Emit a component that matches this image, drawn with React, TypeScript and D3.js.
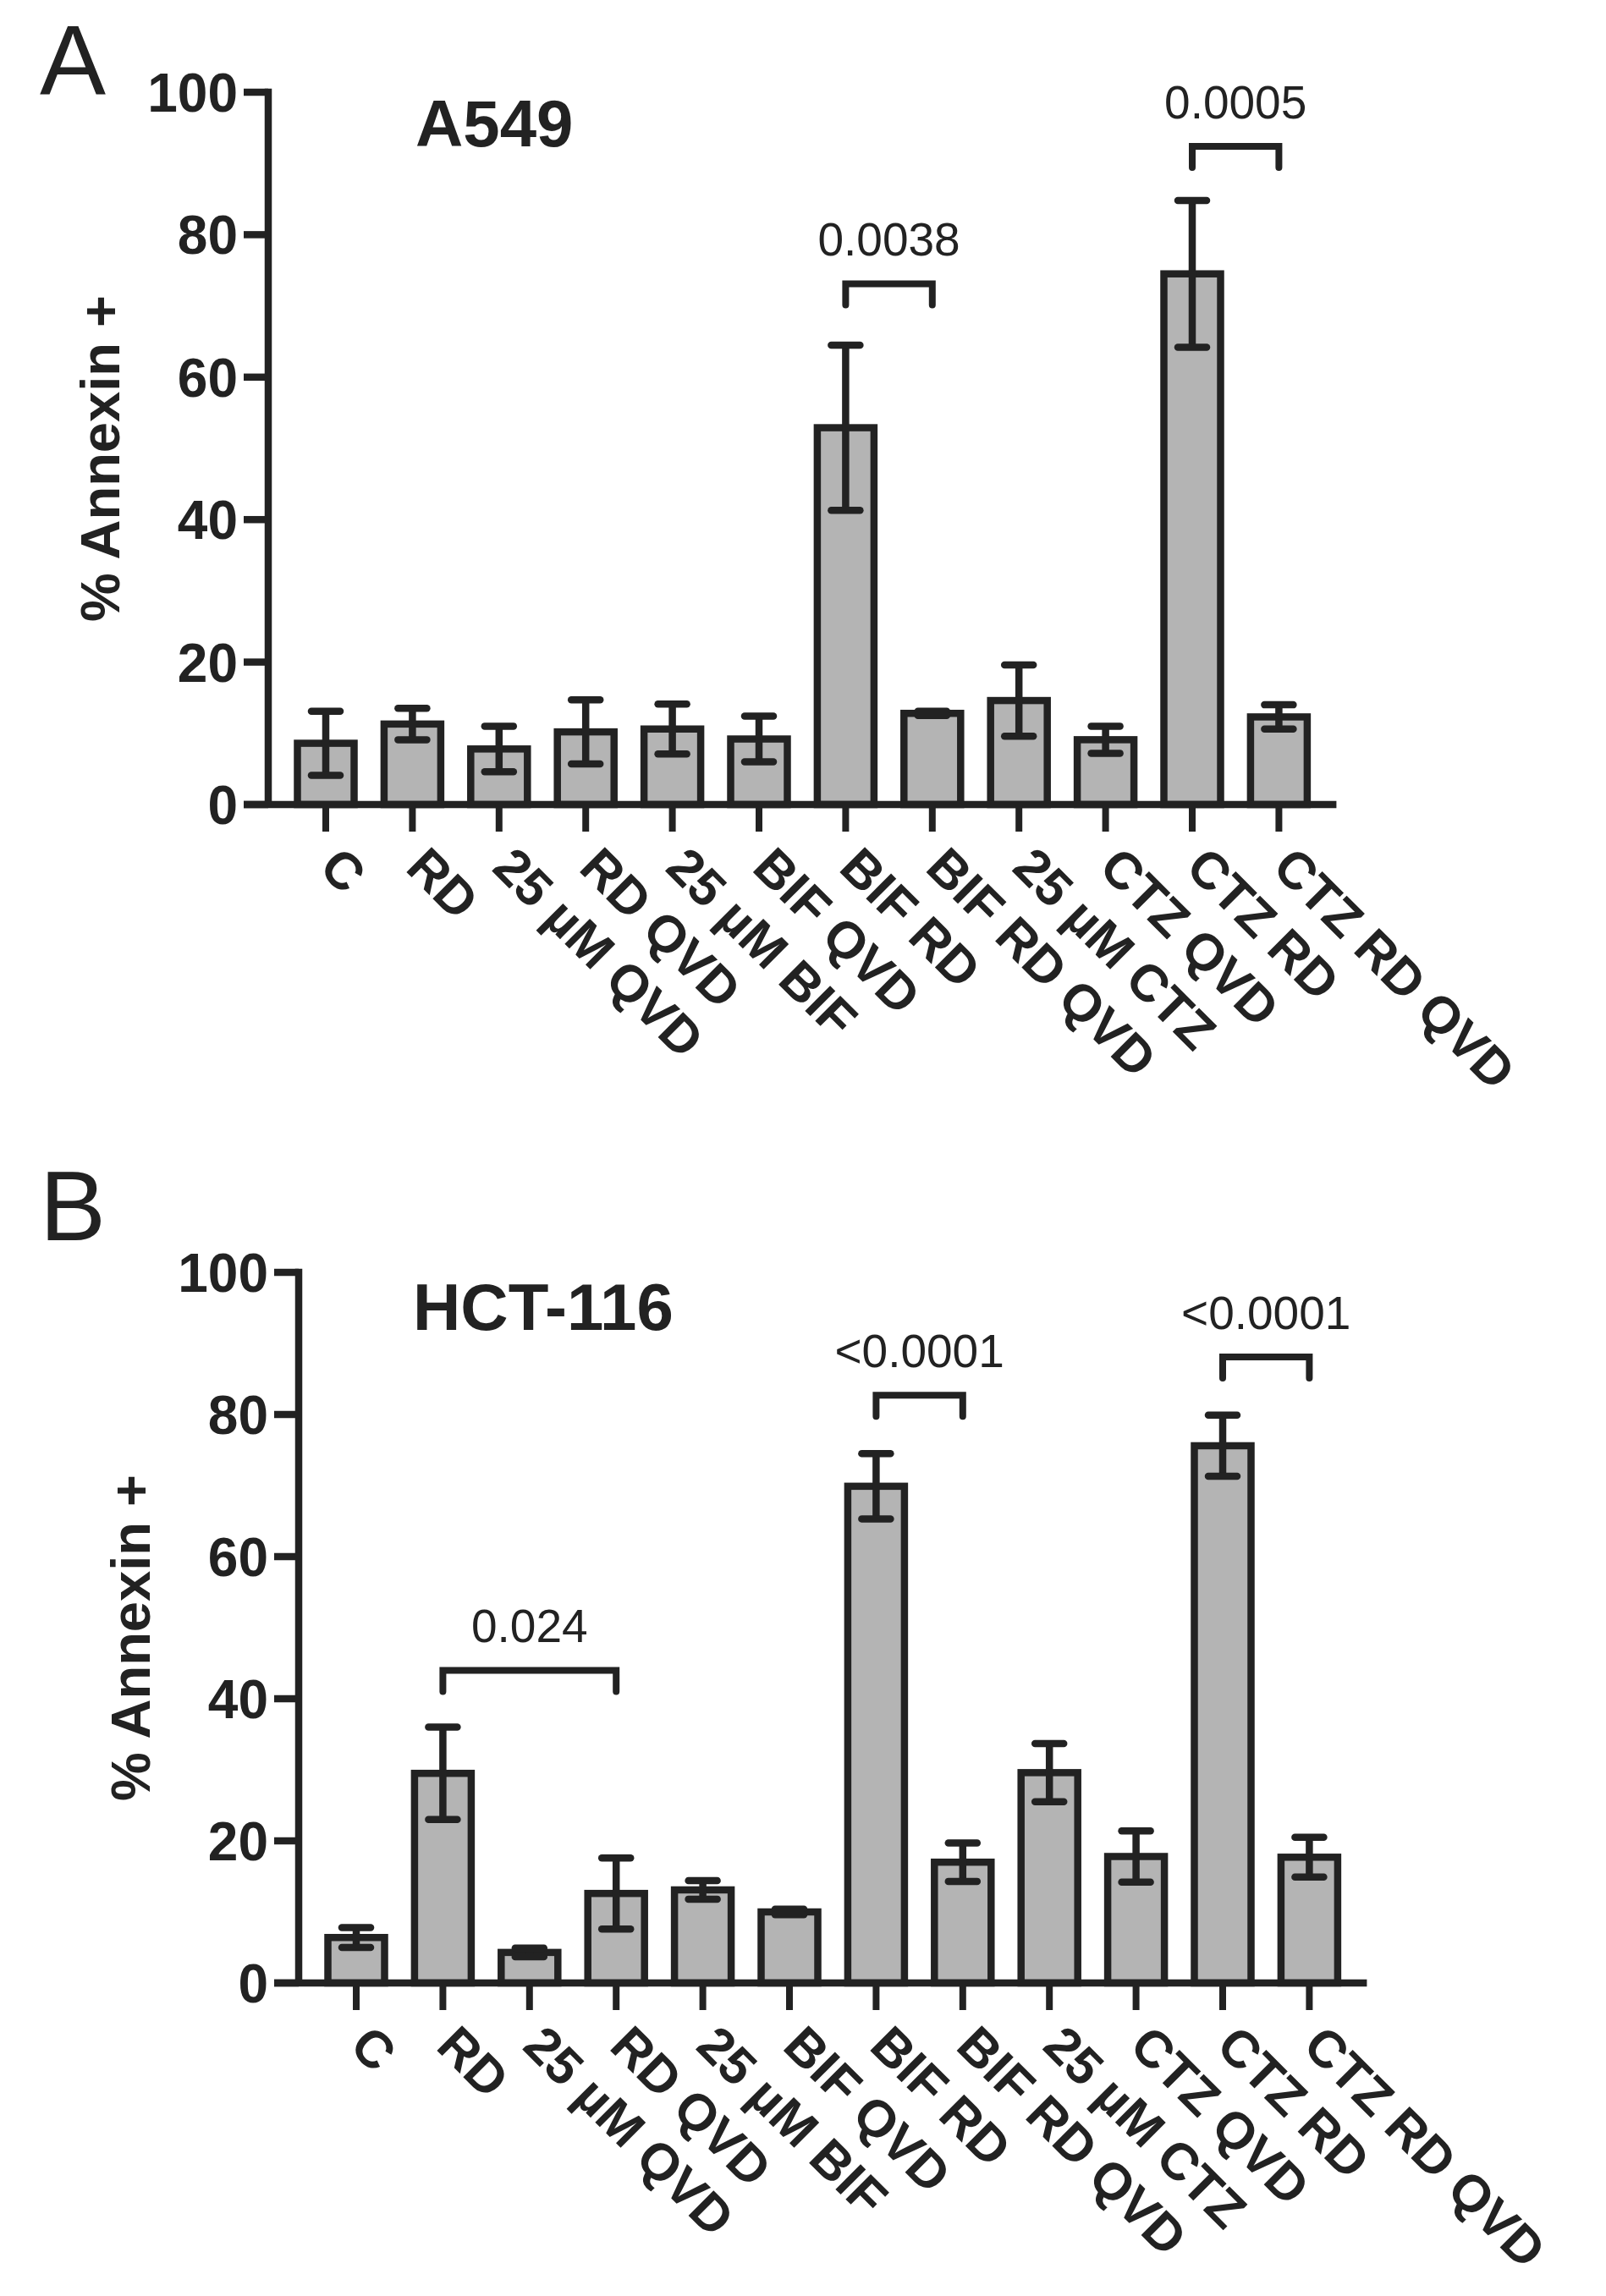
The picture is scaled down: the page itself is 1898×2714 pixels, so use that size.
import React from "react";
import * as d3 from "d3";

const categories = [
  "C",
  "RD",
  "25 µM QVD",
  "RD QVD",
  "25 µM BIF",
  "BIF QVD",
  "BIF RD",
  "BIF RD QVD",
  "25 µM CTZ",
  "CTZ QVD",
  "CTZ RD",
  "CTZ RD QVD",
];

const a549Means = [8.6, 11.3, 7.8, 10.2, 10.6, 9.2, 52.9, 12.8, 14.6, 9.1, 74.5, 12.3];
const a549Errors = [4.5, 2.2, 3.2, 4.5, 3.5, 3.2, 11.6, 0.3, 5.0, 1.9, 10.3, 1.7];

const hctMeans = [6.4, 29.5, 4.3, 12.6, 13.1, 10.0, 69.9, 17.0, 29.6, 17.8, 75.6, 17.7];
const hctErrors = [1.4, 6.5, 0.6, 5.0, 1.3, 0.4, 4.6, 2.7, 4.1, 3.6, 4.3, 2.8];

const yTicks = [0, 20, 40, 60, 80, 100];

const a549Comparisons = [
  { from: 6, to: 7, level: 73.1, label: "0.0038" },
  { from: 10, to: 11, level: 92.4, label: "0.0005" },
];
const hctComparisons = [
  { from: 1, to: 3, level: 44.0, label: "0.024" },
  { from: 6, to: 7, level: 82.7, label: "<0.0001" },
  { from: 10, to: 11, level: 88.1, label: "<0.0001" },
];

const INK = "#222222";
const FILL = "#b4b4b4";
const FONT = "'Liberation Sans', Arial, Helvetica, sans-serif";
const SW = 8.5;

type Cmp = { from: number; to: number; level: number; label: string };

function Panel(props: {
  letter: string;
  title: string;
  means: number[];
  errors: number[];
  comparisons: Cmp[];
  axisX: number;
  y0: number;
  y100: number;
  letterBaseline: number;
  titleX: number;
  titleBaseline: number;
}) {
  const { letter, title, means, errors, comparisons, axisX, y0, y100 } = props;
  const step = 102.4;
  const pad = 68 / step;
  const x = d3
    .scalePoint<string>()
    .domain(categories)
    .range([axisX, axisX + step * (categories.length - 1 + 2 * pad)])
    .padding(pad);
  const y = d3.scaleLinear().domain([0, 100]).range([y0, y100]);
  const barW = 67;
  const capHalf = 17;
  const xEnd = x.range()[1];
  const midY = (y0 + y100) / 2;

  return (
    <g>
      <text x={47} y={props.letterBaseline} fontFamily={FONT} fontSize={117} fill={INK}>
        {letter}
      </text>
      <text
        x={props.titleX}
        y={props.titleBaseline}
        fontFamily={FONT}
        fontSize={78}
        fontWeight="bold"
        fill={INK}
      >
        {title}
      </text>

      {/* bars */}
      {categories.map((c, i) => {
        const cx = x(c) as number;
        return (
          <rect
            key={"b" + i}
            x={cx - barW / 2}
            y={y(means[i])}
            width={barW}
            height={y0 - y(means[i])}
            fill={FILL}
            stroke={INK}
            strokeWidth={SW}
          />
        );
      })}

      {/* error bars */}
      {categories.map((c, i) => {
        const cx = x(c) as number;
        const hi = y(means[i] + errors[i]);
        const lo = y(means[i] - errors[i]);
        return (
          <g key={"e" + i} stroke={INK} strokeWidth={SW} strokeLinecap="round">
            <line x1={cx} x2={cx} y1={hi} y2={lo} strokeLinecap="butt" />
            <line x1={cx - capHalf} x2={cx + capHalf} y1={hi} y2={hi} />
            <line x1={cx - capHalf} x2={cx + capHalf} y1={lo} y2={lo} />
          </g>
        );
      })}

      {/* y axis */}
      <line x1={axisX} x2={axisX} y1={y100 - SW / 2} y2={y0} stroke={INK} strokeWidth={SW} />
      {yTicks.map((t) => (
        <g key={"yt" + t}>
          <line x1={axisX - 29} x2={axisX} y1={y(t)} y2={y(t)} stroke={INK} strokeWidth={SW} />
          <text
            x={axisX - 36}
            y={y(t)}
            dy="0.36em"
            textAnchor="end"
            fontFamily={FONT}
            fontSize={64}
            fontWeight="bold"
            fill={INK}
          >
            {t}
          </text>
        </g>
      ))}
      <text
        transform={`translate(${axisX - 176},${midY + 12}) rotate(-90)`}
        textAnchor="middle"
        fontFamily={FONT}
        fontSize={65}
        fontWeight="bold"
        fill={INK}
      >
        % Annexin +
      </text>

      {/* x axis */}
      <line x1={axisX - 29} x2={xEnd} y1={y0} y2={y0} stroke={INK} strokeWidth={SW} />
      {categories.map((c, i) => {
        const cx = x(c) as number;
        return (
          <g key={"xt" + i}>
            <line x1={cx} x2={cx} y1={y0} y2={y0 + 32} stroke={INK} strokeWidth={8} />
            <text
              transform={`translate(${cx - 10},${y0 + 77}) rotate(45)`}
              textAnchor="start"
              fontFamily={FONT}
              fontSize={61}
              fontWeight="bold"
              fill={INK}
            >
              {c}
            </text>
          </g>
        );
      })}

      {/* comparisons */}
      {comparisons.map((cmp, k) => {
        const x1 = x(categories[cmp.from]) as number;
        const x2 = x(categories[cmp.to]) as number;
        const yb = y(cmp.level);
        return (
          <g key={"c" + k}>
            <path
              d={`M${x1},${yb + 25}V${yb}H${x2}V${yb + 25}`}
              fill="none"
              stroke={INK}
              strokeWidth={8}
              strokeLinecap="round"
            />
            <text
              x={(x1 + x2) / 2}
              y={yb - 33}
              textAnchor="middle"
              fontFamily={FONT}
              fontSize={55}
              fill={INK}
            >
              {cmp.label}
            </text>
          </g>
        );
      })}
    </g>
  );
}

export default function App() {
  return (
    <svg
      width={1898}
      height={2714}
      viewBox="0 0 1898 2714"
      style={{ position: "absolute", left: 0, top: 0, background: "#ffffff" }}
    >
      <rect x={0} y={0} width={1898} height={2714} fill="#ffffff" />
      <Panel
        letter="A"
        title="A549"
        means={a549Means}
        errors={a549Errors}
        comparisons={a549Comparisons}
        axisX={317}
        y0={951}
        y100={109}
        letterBaseline={112}
        titleX={491}
        titleBaseline={173}
      />
      <Panel
        letter="B"
        title="HCT-116"
        means={hctMeans}
        errors={hctErrors}
        comparisons={hctComparisons}
        axisX={353}
        y0={2344}
        y100={1504}
        letterBaseline={1466}
        titleX={488}
        titleBaseline={1572}
      />
    </svg>
  );
}
